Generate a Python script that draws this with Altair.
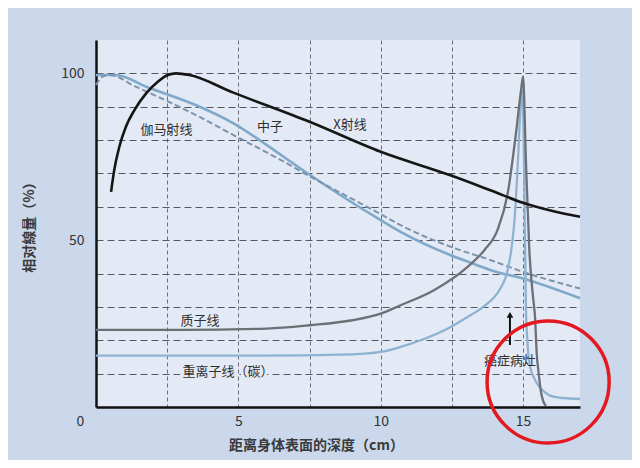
import altair as alt
import pandas as pd

# ---- data ----
xray_x = [0.53, 0.64, 0.82, 1.05, 1.35, 1.76, 2.17, 2.52, 2.81, 3.28, 4.8, 7.5, 10.0, 12.5, 13.9, 15.0, 16.0, 17.0]
xray_y = [64.5, 71.0, 78.0, 84.0, 89.0, 94.0, 97.5, 99.5, 100.0, 99.5, 94.3, 85.5, 76.5, 69.3, 64.8, 61.2, 58.8, 57.0]

gamma_x = [0.0, 0.7, 1.76, 3.5, 4.83, 6.0, 7.18, 10.0, 10.7, 12.46, 13.05, 13.87, 15.0, 17.0]
gamma_y = [99.5, 99.5, 96.0, 90.5, 85.0, 78.5, 71.5, 56.0, 52.5, 45.5, 43.6, 41.0, 38.5, 32.6]

neutron_x = [0.0, 0.23, 0.47, 1.4, 3.51, 4.83, 6.71, 7.2, 10.0, 10.7, 12.46, 13.87, 15.0, 17.0]
neutron_y = [96.5, 99.0, 99.5, 96.0, 87.5, 81.5, 73.0, 70.6, 57.8, 54.5, 48.0, 44.0, 40.5, 35.5]

proton_x = [0.0, 3.0, 6.0, 7.5, 9.0, 10.0, 10.7, 11.87, 13.05, 13.64, 14.1, 14.46, 14.75, 14.93, 15.0,
            15.1, 15.22, 15.35, 15.42, 15.48, 15.55, 15.62, 15.7, 15.8]
proton_y = [23.1, 23.1, 23.5, 24.5, 26.0, 28.0, 30.5, 35.0, 42.0, 47.0, 53.0, 64.0, 82.0, 95.0, 99.0,
            74.0, 47.0, 33.0, 27.0, 16.0, 10.0, 5.0, 2.0, 0.3]

carbon_x = [0.0, 5.0, 9.0, 10.0, 10.7, 11.4, 12.46, 13.05, 13.6, 14.2, 14.43, 14.6, 14.7, 14.81, 14.9, 14.97,
            15.04, 15.1, 15.15, 15.25, 15.4, 15.54, 15.75, 15.95, 16.4, 17.0]
carbon_y = [15.4, 15.4, 15.8, 16.5, 18.0, 20.0, 24.0, 27.0, 30.0, 35.5, 40.0, 48.0, 56.0, 72.0, 88.0, 95.0,
            70.0, 30.0, 20.0, 12.0, 8.5, 6.4, 4.5, 3.4, 2.7, 2.4]

label_text = ["伽马射线", "中子", "X射线", "质子线", "癌症病灶"]
label_x = [2.48, 6.11, 8.92, 3.65, 14.54]
label_y = [83.0, 83.9, 84.5, 25.8, 13.8]

carbon_label = ["重离子线（碳）"]
carbon_label_x = [4.64]
carbon_label_y = [10.5]

arrow_x = [14.54]
arrow_y0 = [18.6]
arrow_y1 = [27.0]
arrow_head_y = [27.6]

circle_x = [15.88]
circle_y = [7.5]

x_ticks = [0, 2.5, 5, 7.5, 10, 12.5, 15]
y_ticks = [10, 20, 30, 40, 50, 60, 70, 80, 90, 100]

FONT = "Noto Sans CJK SC"

def series(xs, ys, name):
    return pd.DataFrame({"x": xs, "y": ys, "s": name})

xsc = alt.Scale(domain=[0, 17], nice=False, zero=False)
ysc = alt.Scale(domain=[0, 110], nice=False)

xaxis = alt.Axis(values=x_ticks, labelExpr="datum.value % 5 == 0 ? datum.label : ''",
                 grid=True, gridDash=[4, 3], gridColor="#6a6e76", gridWidth=1,
                 ticks=False, domainColor="#111111", domainWidth=2.5,
                 labelFont=FONT, labelFontSize=14, labelColor="#333333", labelPadding=7,
                 labelOffset={"condition": {"test": "datum.value == 0", "value": -20}, "value": 0},
                 title="距离身体表面的深度（cm）", titleFont=FONT, titleFontSize=14,
                 titleFontWeight="bold", titleColor="#3a3a3a", titlePadding=10, titleX=220)
yaxis = alt.Axis(values=y_ticks, labelExpr="datum.value % 50 == 0 ? datum.label : ''",
                 grid=True, gridDash=[7, 4], gridColor="#55585f", gridWidth=1.2,
                 ticks=False, domainColor="#111111", domainWidth=2.5,
                 labelFont=FONT, labelFontSize=14, labelColor="#333333", labelPadding=12,
                 title="相对線量（%）", titleFont=FONT, titleFontSize=14,
                 titleFontWeight="bold", titleColor="#3a3a3a", titlePadding=24)

X = alt.X("x:Q", scale=xsc, axis=xaxis)
Y = alt.Y("y:Q", scale=ysc, axis=yaxis)
Xn = alt.X("x:Q", scale=xsc)
Yn = alt.Y("y:Q", scale=ysc)

base_gamma = alt.Chart(series(gamma_x, gamma_y, "gamma")).mark_line(
    color="#7fa9ca", strokeWidth=2.6, interpolate="monotone").encode(x=X, y=Y)
neutron = alt.Chart(series(neutron_x, neutron_y, "neutron")).mark_line(
    color="#7b93ab", strokeWidth=2, strokeDash=[6, 3], interpolate="monotone").encode(x=Xn, y=Yn)
carbon = alt.Chart(series(carbon_x, carbon_y, "carbon")).mark_line(
    color="#8db2d2", strokeWidth=2.3, interpolate="monotone").encode(x=Xn, y=Yn)
proton = alt.Chart(series(proton_x, proton_y, "proton")).mark_line(
    color="#6c7076", strokeWidth=2.3, interpolate="monotone").encode(x=Xn, y=Yn)
xray = alt.Chart(series(xray_x, xray_y, "xray")).mark_line(
    color="#161616", strokeWidth=2.6, interpolate="monotone").encode(x=Xn, y=Yn)

labels_df = pd.DataFrame({"x": label_x, "y": label_y, "t": label_text})
labels = alt.Chart(labels_df).mark_text(font=FONT, fontSize=13, color="#2f2f2f").encode(
    x=Xn, y=Yn, text="t:N")

cl_df = pd.DataFrame({"x": carbon_label_x, "y": carbon_label_y, "t": carbon_label})
cl_halo = alt.Chart(cl_df).mark_text(font=FONT, fontSize=13, color="#e4eaf5",
                                     stroke="#e4eaf5", strokeWidth=6).encode(x=Xn, y=Yn, text="t:N")
cl_text = alt.Chart(cl_df).mark_text(font=FONT, fontSize=13, color="#2f2f2f").encode(
    x=Xn, y=Yn, text="t:N")

arrow_df = pd.DataFrame({"x": arrow_x, "y": arrow_y0, "y2": arrow_y1, "yh": arrow_head_y})
arrow_shaft = alt.Chart(arrow_df).mark_rule(color="#111111", strokeWidth=2).encode(
    x=Xn, y=Yn, y2="y2:Q")
arrow_head = alt.Chart(arrow_df).mark_point(shape="triangle-up", filled=True, size=45,
                                            color="#111111", opacity=1).encode(
    x=Xn, y=alt.Y("yh:Q", scale=ysc))

circle_df = pd.DataFrame({"x": circle_x, "y": circle_y})
circle = alt.Chart(circle_df).mark_point(shape="circle", filled=False, size=14900,
                                         stroke="#e3191f", strokeWidth=3.5, opacity=1).encode(
    x=Xn, y=Yn)

chart = alt.layer(base_gamma, neutron, carbon, proton, xray, labels, cl_halo, cl_text,
                  arrow_shaft, arrow_head, circle).properties(
    width=484, height=367,
    autosize=alt.AutoSizeParams(type="none"),
    padding={"left": 88, "top": 32, "right": 52, "bottom": 53},
    background="#cbd8ec",
).configure_view(fill="#e4eaf5", stroke=None)

chart.save("out.html", embed_options={"renderer": "svg", "actions": False})
